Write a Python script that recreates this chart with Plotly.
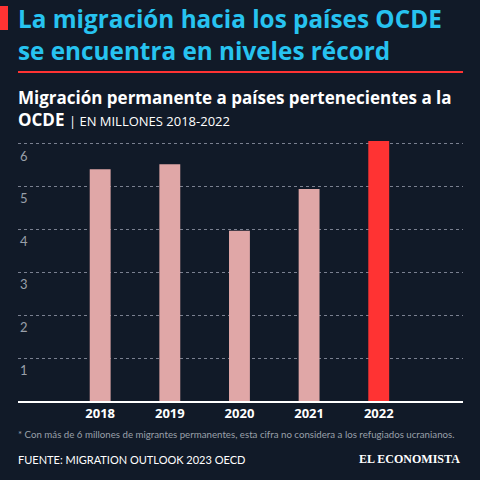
import plotly.graph_objects as go

years = [2018, 2019, 2020, 2021, 2022]
values = [5.40, 5.52, 3.97, 4.94, 6.06]
colors = ["#e0a7a7", "#e0a7a7", "#e0a7a7", "#e0a7a7", "#ff3333"]
yticks = [1, 2, 3, 4, 5, 6]
bg = "#111a28"

def py(y):
    return 1 - y / 480

def px(x):
    return (x - 18) / 445

fig = go.Figure(go.Bar(x=years, y=values, marker_color=colors, width=0.3, marker_line_width=0))
fig.update_layout(
    width=480, height=480, paper_bgcolor=bg, plot_bgcolor=bg,
    margin=dict(l=18, r=17, t=0, b=0), showlegend=False,
    font=dict(family="Lato", color="white"),
)
fig.update_xaxes(range=[2016.82, 2023.21], tickvals=years, ticktext=[f"<b>{y}</b>" for y in years],
                 tickfont=dict(size=13, color="white", family="Open Sans"), showgrid=False, showline=True,
                 linecolor="white", linewidth=1.5)
fig.update_yaxes(range=[0, 6.2], tickvals=yticks, showticklabels=False, showgrid=True,
                 gridcolor="#7a8090", griddash="dot", gridwidth=1, zeroline=False,
                 domain=[py(401), py(135)])
for t in yticks:
    fig.add_annotation(x=0, xref="paper", y=t, yref="y", text=str(t), showarrow=False,
                       xanchor="left", yanchor="top", yshift=-2, font=dict(size=13, color="#9aa0aa"))
fig.add_shape(type="rect", xref="paper", yref="paper", x0=px(0), x1=px(8),
              y0=py(30), y1=py(6), fillcolor="#ff3333", line_width=0)
fig.add_annotation(x=px(16), xref="paper", y=py(0), yref="paper", xanchor="left", yanchor="top",
                   text="<b>La migración hacia los países OCDE<br>se encuentra en niveles récord</b>",
                   showarrow=False, align="left",
                   font=dict(size=24.3, color="#27c3f0", family="Open Sans"))
fig.add_shape(type="line", xref="paper", yref="paper", x0=0, x1=1, y0=py(72), y1=py(72),
              line=dict(color="#ff3333", width=2))
fig.add_annotation(x=px(16), xref="paper", y=py(84), yref="paper", xanchor="left", yanchor="top",
                   text="<b>Migración permanente a países pertenecientes a la<br>OCDE</b> <span style='font-size:13px;font-weight:normal'>| EN MILLONES 2018-2022</span>",
                   showarrow=False, align="left", font=dict(size=17, color="white", family="Open Sans"))
fig.add_annotation(x=px(16), xref="paper", y=py(434), yref="paper", xanchor="left", yanchor="middle",
                   text="* Con más de 6 millones de migrantes permanentes, esta cifra no considera a los refugiados ucranianos.",
                   showarrow=False, font=dict(size=9.7, color="#9aa0aa"))
fig.add_annotation(x=px(16), xref="paper", y=py(459), yref="paper", xanchor="left", yanchor="middle",
                   text="FUENTE: MIGRATION OUTLOOK 2023 OECD", showarrow=False,
                   font=dict(size=11, color="white"))
fig.add_annotation(x=px(462), xref="paper", y=py(459), yref="paper", xanchor="right", yanchor="middle",
                   text="<b>EL ECONOMISTA</b>", showarrow=False,
                   font=dict(size=12, color="white", family="Liberation Serif"))
fig.write_html("out.html", post_script="document.body.style.margin='0px';",
               config={"displayModeBar": False})
